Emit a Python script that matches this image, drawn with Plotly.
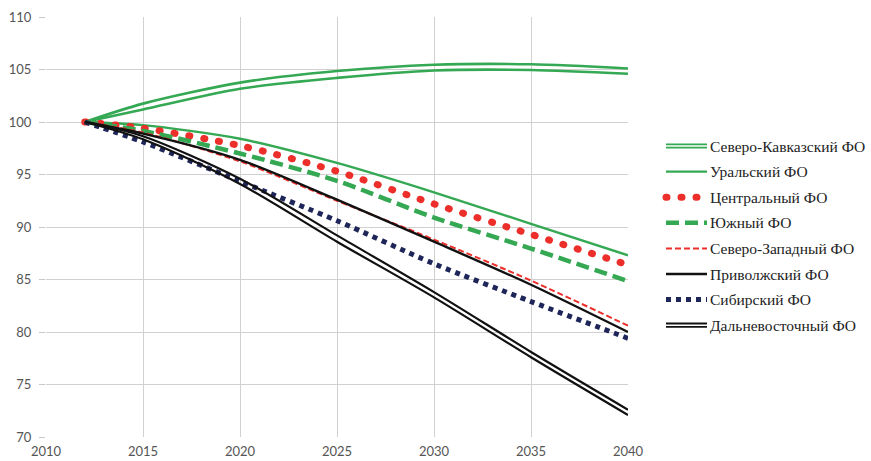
import plotly.graph_objects as go

# ---------------- data ----------------
years = [2012, 2015, 2020, 2025, 2030, 2035, 2040]

north_caucasus_upper = [100, 101.75, 103.75, 104.85, 105.45, 105.5, 105.1]
north_caucasus_lower = [100, 101.2, 103.17, 104.2, 104.9, 104.95, 104.6]
ural = [100, 99.7, 98.4, 96.1, 93.3, 90.3, 87.3]
central = [100, 99.4, 97.75, 95.3, 92.2, 89.3, 86.4]
south = [100, 99.15, 97.0, 94.4, 90.9, 87.95, 84.85]
northwest = [100, 99.0, 96.25, 92.5, 88.8, 84.9, 80.6]
volga = [100, 98.9, 96.4, 92.6, 88.6, 84.5, 80.0]
siberia = [100, 98.1, 94.35, 90.6, 86.5, 82.9, 79.4]
far_east_upper = [100, 98.65, 94.6, 89.2, 83.8, 78.1, 72.6]
far_east_lower = [100, 98.35, 94.1, 88.6, 83.3, 77.6, 72.1]

legend_labels = [
    "Северо-Кавказский ФО",
    "Уральский ФО",
    "Центральный ФО",
    "Южный ФО",
    "Северо-Западный ФО",
    "Приволжский ФО",
    "Сибирский ФО",
    "Дальневосточный ФО",
]

x_ticks = [2010, 2015, 2020, 2025, 2030, 2035, 2040]
y_ticks = [70, 75, 80, 85, 90, 95, 100, 105, 110]

# ---------------- styles ----------------
GREEN = "#34a853"
RED = "#ec2f2a"
NAVY = "#1e2659"
BLACK = "#111111"
DOTS = "1px,14px"  # rounded by post-script -> round dots

W, H = 871, 461
L, R, T, B = 46, 628, 17, 437  # plot area in pixels

fig = go.Figure()


def add(y, color, width, dash="solid"):
    fig.add_trace(go.Scatter(
        x=years, y=y, mode="lines", showlegend=False, hoverinfo="skip",
        line=dict(color=color, width=width, dash=dash, shape="spline", smoothing=0.8),
    ))


add(north_caucasus_upper, GREEN, 2.6)
add(north_caucasus_lower, GREEN, 2.6)
add(ural, GREEN, 2.4)
add(central, RED, 7, DOTS)
add(south, GREEN, 4.5, "13px,6px")
add(northwest, RED, 2.0, "6px,3px")
add(volga, BLACK, 2.4)
add(siberia, NAVY, 5, "5px,5px")
add(far_east_upper, BLACK, 2.2)
add(far_east_lower, BLACK, 2.2)

# ---------------- manual legend ----------------
def px_x(p):
    return (p - L) / (R - L)


def px_y(p):
    return (B - p) / (B - T)


row_y = [146 + 25.6 * i for i in range(8)]
sx0, sx1, tx = 666, 707, 708

legend_styles = [
    [(GREEN, 5.2, "solid"), ("white", 1.6, "solid")],
    [(GREEN, 2.4, "solid")],
    [(RED, 7, DOTS)],
    [(GREEN, 4.5, "13px,6px")],
    [(RED, 2.0, "6px,3px")],
    [(BLACK, 2.4, "solid")],
    [(NAVY, 5, "5px,5px")],
    [(BLACK, 5.2, "solid"), ("white", 1.6, "solid")],
]

shapes = []
annotations = []
for label, yy, styles in zip(legend_labels, row_y, legend_styles):
    for color, width, dash in styles:
        shapes.append(dict(
            type="line", xref="paper", yref="paper",
            x0=px_x(sx0), x1=px_x(sx1), y0=px_y(yy), y1=px_y(yy),
            line=dict(color=color, width=width, dash=dash),
        ))
    annotations.append(dict(
        xref="paper", yref="paper", x=px_x(tx), y=px_y(yy),
        xanchor="left", yanchor="middle", showarrow=False, text=label,
        font=dict(family="Liberation Serif", size=15.5, color="#222222"),
    ))

fig.update_layout(
    width=W, height=H,
    margin=dict(l=L, r=W - R, t=T, b=H - B, autoexpand=False),
    paper_bgcolor="white", plot_bgcolor="white",
    shapes=shapes, annotations=annotations,
    showlegend=False,
    xaxis=dict(
        range=[2010, 2040], tickvals=x_ticks, ticktext=[str(v) for v in x_ticks],
        showgrid=True, gridcolor="#d0d0d0", gridwidth=1.3, automargin=False,
        zeroline=False, showline=False, ticks="", ticklabelstandoff=5,
        tickfont=dict(family="Lato", size=13, color="#555555"),
    ),
    yaxis=dict(
        range=[70, 110], tickvals=y_ticks, ticktext=[str(v) for v in y_ticks],
        showgrid=True, gridcolor="#d0d0d0", gridwidth=1.3, automargin=False,
        zeroline=False, showline=False, ticks="outside", ticklen=6,
        tickcolor="#c8c8c8", tickwidth=1.3, ticklabelstandoff=5,
        tickfont=dict(family="Lato", size=13, color="#555555"),
    ),
)

post = """
document.body.style.margin = '0';
document.body.style.overflow = 'hidden';
function roundDots() {
  document.querySelectorAll('path').forEach(function (p) {
    var d = p.style.strokeDasharray || p.getAttribute('stroke-dasharray') || '';
    if (d.replace(/\\s/g, '').indexOf('1px,14px') === 0) {
      p.style.strokeLinecap = 'round';
    }
  });
}
roundDots();
setTimeout(roundDots, 50);
setTimeout(roundDots, 300);
"""

fig.write_html("out.html", post_script=post, config={"displayModeBar": False})
